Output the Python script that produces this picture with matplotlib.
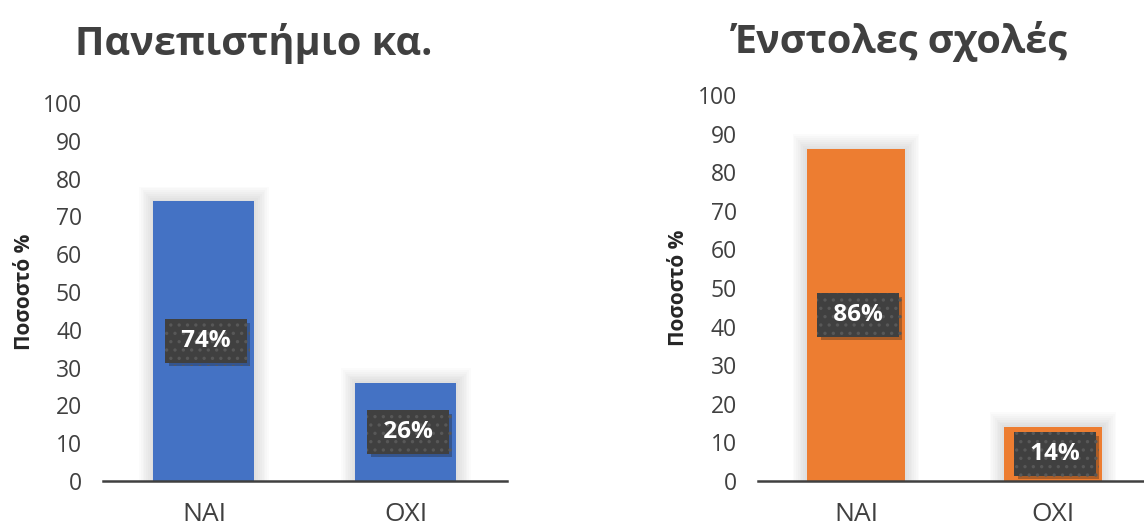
import matplotlib.pyplot as plt
from matplotlib import patheffects as pe

# data
categories = ['NAI', 'OXI']
uni_values = [74, 26]
uniform_values = [86, 14]
titles = ['Πανεπιστήμιο κα.', 'Ένστολες σχολές']
yticks = list(range(0, 101, 10))

plt.rcParams['font.family'] = ['Open Sans', 'DejaVu Sans']
plt.rcParams['hatch.linewidth'] = 1.2

fig = plt.figure(figsize=(11.44, 5.25), dpi=100)
ax1 = fig.add_axes([0.090, 0.0838, 0.3531, 0.720])
ax2 = fig.add_axes([0.6622, 0.0838, 0.3444, 0.7352])


def draw(ax, values, color, title, title_pos, title_size):
    x = range(len(categories))
    # soft shadow around bars
    for k in range(8):
        ax.bar(x, [v + 0.4 + k * 0.5 for v in values], width=0.5 + 0.018 * (k + 1),
               color='#000000', alpha=0.014, zorder=1, linewidth=0)
    ax.bar(x, values, width=0.5, color=color, zorder=2, linewidth=0)
    for i, v in enumerate(values):
        t = ax.text(i + 0.01, v / 2, f' {v}% ', ha='center', va='center',
                    fontsize=17.5, fontweight='bold', color='white', zorder=5,
                    bbox=dict(boxstyle='square,pad=0.4', fc='#404040',
                              ec='#585858', lw=0, hatch='..'))
        t.get_bbox_patch().set_path_effects(
            [pe.SimplePatchShadow(offset=(2.5, -2.5), alpha=0.3), pe.Normal()])
    ax.set_ylim(0, 100)
    ax.set_xlim(-0.5, 1.5)
    ax.set_yticks(yticks)
    ax.set_xticks(list(x))
    ax.set_xticklabels(categories)
    for s in ['left', 'right', 'top']:
        ax.spines[s].set_visible(False)
    ax.spines['bottom'].set_color('#404040')
    ax.spines['bottom'].set_linewidth(1.8)
    ax.spines['bottom'].set_zorder(6)
    ax.tick_params(axis='y', length=0, pad=15, labelsize=16.5, labelcolor='#404040')
    ax.tick_params(axis='x', length=0, pad=15, labelsize=19, labelcolor='#404040')
    ax.set_ylabel('Ποσοστό %', fontsize=15, fontweight='bold', color='#262626', labelpad=6)
    ax.text(title_pos[0], title_pos[1], title, transform=ax.transAxes,
            ha='center', va='baseline', fontsize=title_size,
            fontweight='bold', color='#404040')


draw(ax1, uni_values, '#4472C4', titles[0], (0.3725, 1.127), 28.5)
draw(ax2, uniform_values, '#ED7D31', titles[1], (0.362, 1.109), 28.5)

fig.savefig('out.png', dpi=100)
